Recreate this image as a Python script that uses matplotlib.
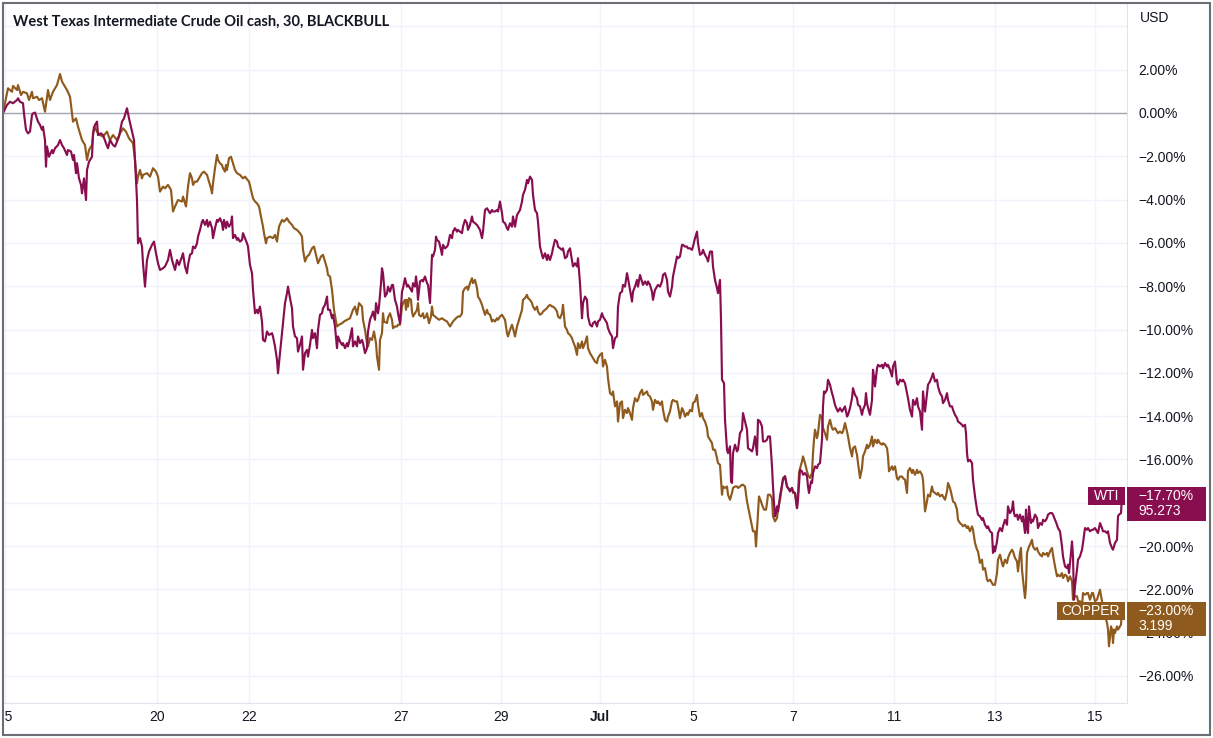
import matplotlib
matplotlib.use("Agg")
import matplotlib.pyplot as plt
from matplotlib.patches import Rectangle
from matplotlib.transforms import blended_transform_factory, Bbox

# percent change vs. first bar, x = 30 min bar number
wti = [
    (3, 0.0), (7, 0.37), (10, 0.52), (13, 0.45), (17, 0.60), (18, 0.68), (20, 0.52), (23, 0.45),
    (24, -0.02), (26, -0.78), (28, -0.94), (30, -0.86), (32, -0.09), (33, -0.02), (35, 0.02),
    (37, -0.25), (38, -0.40), (40, -0.55), (42, -0.78), (43, -0.63), (45, -1.25), (46, -2.48),
    (47, -1.55), (49, -2.02), (52, -1.71), (53, -1.86), (55, -1.63), (58, -1.48), (60, -1.25),
    (62, -1.48), (64, -1.63), (67, -1.94), (68, -1.71), (71, -1.78), (73, -2.17), (74, -1.94),
    (76, -2.78), (77, -2.32), (79, -3.02), (81, -3.32), (82, -3.71), (84, -3.02), (86, -4.02),
    (87, -2.63), (89, -2.25), (92, -2.02), (93, -0.94), (95, -0.55), (97, -0.40), (98, -1.02),
    (101, -0.94), (103, -1.02), (106, -1.40), (108, -1.63), (110, -1.25), (113, -1.48),
    (115, -1.55), (117, -1.32), (119, -1.09), (122, -0.40), (124, -0.25), (126, 0.06), (127, 0.22),
    (129, -0.25), (132, -0.86), (134, -1.25), (135, -2.17), (137, -4.02), (138, -6.02),
    (140, -5.78), (142, -6.17), (143, -6.94), (145, -8.02), (147, -6.79), (149, -6.40),
    (152, -6.09), (154, -5.94), (156, -6.48), (158, -6.94), (160, -7.25), (163, -7.17),
    (165, -7.09), (168, -6.79), (170, -6.32), (172, -6.79), (173, -6.94), (175, -7.25),
    (177, -6.79), (179, -7.02), (182, -6.63), (183, -6.48), (185, -7.09), (187, -7.40),
    (188, -7.02), (190, -6.55), (192, -6.48), (193, -6.17), (195, -6.25), (197, -6.02),
    (198, -5.71), (200, -5.40), (202, -5.02), (203, -4.94), (205, -5.17), (207, -4.94),
    (208, -5.25), (210, -5.02), (212, -5.32), (213, -5.78), (215, -5.32), (217, -4.94),
    (218, -5.02), (220, -4.86), (222, -5.09), (223, -5.40), (224, -4.94), (226, -5.32),
    (227, -5.02), (229, -5.25), (231, -5.09), (232, -4.78), (233, -5.78), (235, -5.63),
    (237, -5.86), (238, -5.78), (240, -5.94), (242, -5.86), (243, -5.55), (245, -5.78),
    (247, -6.02), (248, -6.17), (250, -7.02), (252, -7.40), (253, -8.17), (255, -9.25),
    (257, -9.09), (258, -9.25), (260, -8.94), (262, -9.63), (263, -10.48), (265, -10.55),
    (267, -10.09), (269, -10.25), (272, -10.17), (273, -10.32), (275, -10.78), (277, -11.40),
    (278, -12.02), (280, -11.09), (282, -10.17), (283, -9.71), (285, -8.78), (287, -8.32),
    (288, -8.02), (290, -8.55), (292, -9.02), (293, -9.86), (295, -10.32), (297, -10.40),
    (298, -11.02), (300, -10.71), (302, -10.32), (303, -11.86), (305, -11.09), (307, -10.94),
    (308, -11.25), (310, -10.71), (312, -10.02), (313, -10.40), (315, -10.17), (317, -10.86),
    (318, -10.02), (320, -9.32), (322, -9.25), (323, -9.02), (325, -8.86), (327, -8.48),
    (328, -9.09), (330, -9.09), (332, -9.48), (333, -9.32), (335, -9.86), (337, -10.86),
    (338, -10.32), (340, -10.55), (342, -10.71), (343, -10.63), (345, -10.86), (347, -10.63),
    (348, -10.78), (350, -10.40), (352, -9.94), (353, -10.78), (355, -10.55), (357, -10.78),
    (358, -10.32), (360, -10.63), (362, -10.48), (363, -10.63), (365, -11.09), (367, -10.86),
    (368, -10.09), (370, -9.55), (372, -9.32), (373, -9.17), (375, -9.55), (376, -8.78),
    (378, -9.25), (379, -8.94), (381, -7.86), (382, -7.17), (383, -7.40), (385, -8.48),
    (387, -8.32), (388, -8.02), (390, -8.25), (392, -7.94), (393, -7.94), (395, -8.63),
    (397, -8.94), (398, -9.25), (400, -9.71), (402, -8.25), (403, -8.09), (405, -7.63),
    (407, -8.02), (408, -7.94), (410, -8.09), (412, -8.25), (413, -7.86), (415, -8.02),
    (416, -7.55), (417, -7.94), (418, -8.63), (420, -7.78), (422, -7.71), (423, -7.78),
    (425, -7.55), (427, -7.86), (428, -7.94), (430, -8.78), (432, -6.55), (433, -6.63),
    (435, -6.32), (436, -5.71), (437, -5.86), (439, -5.94), (441, -6.32), (442, -6.55),
    (443, -6.09), (445, -6.25), (447, -6.17), (448, -6.09), (450, -5.63), (452, -5.78),
    (453, -5.48), (455, -5.32), (457, -5.48), (458, -5.40), (460, -5.48), (462, -5.55),
    (463, -5.25), (465, -4.94), (467, -5.09), (468, -5.40), (470, -5.17), (472, -4.78),
    (473, -5.02), (475, -5.09), (477, -5.17), (478, -5.25), (480, -5.40), (482, -5.78),
    (483, -5.48), (485, -4.48), (487, -4.40), (488, -4.48), (490, -4.63), (492, -4.48),
    (493, -4.55), (495, -4.55), (497, -4.48), (498, -4.55), (500, -4.09), (502, -4.63),
    (503, -5.02), (505, -5.09), (507, -5.32), (508, -5.40), (510, -5.09), (512, -5.25),
    (513, -4.78), (515, -5.25), (517, -4.71), (518, -4.63), (520, -4.48), (522, -4.09),
    (523, -3.78), (525, -3.55), (527, -3.09), (528, -3.25), (530, -2.94), (532, -3.09),
    (533, -3.78), (535, -4.48), (537, -4.63), (538, -5.02), (540, -6.17), (542, -6.55),
    (543, -6.71), (545, -6.48), (547, -6.79), (548, -6.55), (550, -6.79), (552, -6.48),
    (553, -6.25), (555, -5.86), (557, -5.94), (558, -6.17), (560, -6.25), (562, -6.32),
    (563, -6.25), (565, -6.71), (567, -6.63), (568, -6.40), (570, -6.25), (572, -6.79),
    (573, -7.09), (575, -6.94), (577, -7.09), (578, -6.71), (580, -7.86), (582, -9.48),
    (583, -8.78), (585, -8.48), (587, -8.63), (588, -9.40), (590, -9.78), (592, -9.86),
    (593, -9.71), (595, -9.63), (597, -9.86), (598, -9.63), (600, -9.55), (602, -9.25),
    (603, -9.40), (605, -9.55), (607, -9.71), (608, -9.94), (610, -10.17), (612, -10.32),
    (613, -10.86), (615, -10.40), (617, -10.32), (618, -8.94), (620, -8.32), (622, -8.25),
    (623, -7.94), (625, -8.02), (627, -7.40), (628, -7.63), (630, -8.17), (632, -8.71),
    (633, -8.25), (635, -8.02), (637, -7.71), (638, -8.02), (640, -7.48), (642, -7.78),
    (643, -7.94), (645, -7.78), (647, -7.94), (648, -7.78), (650, -7.94), (652, -8.25),
    (653, -8.63), (655, -8.17), (657, -8.02), (658, -7.94), (660, -8.02), (662, -7.78),
    (663, -7.48), (665, -7.40), (667, -7.71), (668, -8.25), (670, -8.48), (672, -8.02),
    (673, -7.55), (675, -7.09), (677, -6.63), (678, -6.71), (680, -6.63), (682, -6.09),
    (683, -6.09), (685, -6.17), (687, -6.17), (688, -6.25), (690, -6.25), (692, -6.32),
    (693, -6.17), (695, -5.78), (697, -5.48), (698, -6.02), (700, -6.55), (702, -6.48),
    (703, -6.32), (705, -6.55), (707, -6.71), (708, -6.86), (710, -6.40), (712, -6.40),
    (713, -7.09), (715, -7.71), (717, -8.09), (718, -8.32), (720, -7.71), (721, -9.55),
    (722, -12.32), (724, -12.48), (725, -14.17), (727, -15.55), (728, -15.71), (730, -15.40),
    (731, -17.02), (732, -17.09), (733, -15.71), (735, -15.32), (737, -15.63), (738, -15.55),
    (740, -14.79), (742, -14.63), (743, -13.86), (745, -14.25), (747, -14.63), (748, -15.48),
    (750, -15.55), (752, -15.63), (753, -15.48), (755, -14.94), (757, -15.79), (758, -14.17),
    (760, -14.25), (762, -14.48), (763, -15.17), (765, -15.17), (767, -15.09), (768, -14.94),
    (770, -14.94), (772, -16.32), (773, -17.25), (774, -18.02), (775, -18.63), (776, -18.48),
    (777, -18.17), (778, -18.40), (780, -17.71), (782, -17.17), (783, -16.94), (785, -16.78),
    (787, -17.25), (788, -17.32), (790, -17.48), (792, -17.32), (793, -17.48), (795, -17.55),
    (797, -18.25), (798, -17.86), (800, -16.48), (802, -16.55), (803, -16.71), (805, -16.63),
    (807, -16.78), (808, -17.25), (809, -17.55), (811, -17.02), (812, -17.09), (813, -16.63),
    (815, -16.32), (817, -16.40), (818, -16.25), (820, -16.17), (822, -15.09), (823, -13.55),
    (824, -12.86), (825, -12.94), (827, -12.78), (828, -12.32), (830, -12.55), (832, -12.94),
    (833, -13.09), (835, -13.48), (837, -13.71), (838, -13.79), (840, -13.63), (842, -13.79),
    (843, -13.71), (845, -13.55), (847, -14.02), (848, -13.94), (850, -13.63), (852, -13.17),
    (853, -12.71), (855, -13.02), (857, -13.17), (858, -13.48), (860, -13.55), (862, -13.94),
    (863, -13.71), (865, -13.48), (866, -12.94), (867, -13.40), (869, -13.79), (870, -13.94),
    (872, -13.25), (873, -11.86), (874, -12.17), (875, -12.63), (877, -11.79), (878, -11.63),
    (880, -11.71), (882, -11.63), (883, -11.79), (885, -11.55), (887, -11.71), (888, -11.63),
    (890, -11.86), (892, -12.17), (893, -11.71), (895, -11.48), (897, -12.48), (898, -12.55),
    (900, -12.32), (902, -12.40), (903, -12.32), (905, -12.48), (907, -12.94), (908, -13.17),
    (910, -13.71), (912, -14.02), (913, -13.25), (915, -13.48), (917, -13.17), (918, -13.55),
    (920, -13.79), (922, -14.63), (923, -12.86), (925, -13.79), (927, -12.94), (928, -12.55),
    (930, -12.40), (932, -12.17), (933, -12.02), (935, -12.40), (937, -12.32), (938, -12.63),
    (940, -12.94), (942, -13.09), (943, -13.40), (945, -13.25), (947, -12.94), (948, -13.25),
    (950, -13.55), (952, -13.55), (953, -13.71), (955, -13.94), (957, -14.09), (958, -14.25),
    (960, -14.32), (962, -14.40), (963, -14.48), (965, -14.40), (966, -14.79), (967, -15.71),
    (968, -16.09), (970, -16.02), (972, -16.17), (973, -16.94), (975, -17.71), (977, -18.32),
    (978, -18.55), (980, -18.63), (982, -18.79), (983, -18.71), (985, -19.02), (987, -19.17),
    (988, -19.09), (990, -19.32), (992, -19.40), (993, -20.32), (994, -20.02), (995, -20.25),
    (997, -19.79), (998, -19.40), (1000, -19.17), (1002, -19.32), (1003, -19.09), (1005, -18.79),
    (1007, -19.02), (1008, -18.17), (1010, -18.48), (1012, -18.32), (1013, -17.94), (1014, -18.48),
    (1015, -18.63), (1017, -18.55), (1018, -18.79), (1020, -18.55), (1022, -18.86), (1023, -18.63),
    (1025, -19.40), (1026, -18.32), (1027, -19.17), (1028, -19.40), (1029, -18.17), (1031, -18.94),
    (1032, -18.79), (1033, -18.86), (1035, -18.55), (1037, -18.71), (1038, -19.17), (1040, -18.94),
    (1042, -19.02), (1043, -18.79), (1045, -18.86), (1047, -18.71), (1048, -18.55), (1050, -18.48),
    (1052, -18.48), (1053, -18.55), (1055, -18.79), (1057, -19.02), (1058, -19.17), (1060, -19.32),
    (1062, -20.02), (1063, -20.48), (1065, -20.94), (1067, -21.02), (1068, -20.86), (1069, -21.25),
    (1071, -20.32), (1072, -19.79), (1073, -20.48), (1074, -22.48), (1075, -21.86), (1077, -21.09),
    (1078, -20.63), (1080, -20.48), (1082, -20.17), (1083, -19.86), (1085, -19.17), (1087, -19.25),
    (1088, -19.17), (1090, -19.32), (1092, -19.25), (1093, -19.25), (1095, -19.17), (1097, -19.32),
    (1098, -19.40), (1100, -18.94), (1102, -19.17), (1103, -19.32), (1105, -19.32), (1107, -19.40),
    (1108, -19.32), (1110, -19.86), (1112, -20.09), (1113, -20.17), (1115, -19.86), (1117, -19.71),
    (1118, -18.63), (1119, -18.55), (1121, -18.48), (1122, -17.70),
]

copper = [
    (3, 0.0), (7, 0.91), (8, 1.14), (12, 0.98), (13, 1.25), (17, 1.06), (18, 1.29), (21, 0.83),
    (23, 0.98), (27, 0.91), (29, 0.60), (32, 0.98), (33, 0.68), (37, 0.75), (39, 0.60), (42, 0.68),
    (45, 0.06), (47, 0.75), (48, 1.06), (50, 0.60), (53, 0.98), (55, 1.14), (57, 1.29), (60, 1.80),
    (62, 1.45), (64, 1.29), (67, 1.06), (70, 0.75), (72, -0.02), (73, -0.40), (76, -0.25),
    (78, -0.63), (82, -1.25), (85, -1.48), (87, -2.17), (89, -1.71), (92, -1.48), (94, -0.63),
    (97, -0.86), (100, -1.02), (103, -1.09), (107, -0.86), (110, -1.25), (113, -1.02),
    (117, -1.25), (120, -0.94), (123, -0.71), (126, -0.86), (129, -1.17), (133, -1.40),
    (135, -2.17), (137, -3.25), (138, -2.94), (140, -2.63), (142, -3.02), (143, -2.86),
    (147, -2.78), (150, -2.94), (153, -2.55), (156, -2.71), (158, -2.94), (160, -3.63),
    (163, -3.40), (165, -3.48), (168, -3.32), (171, -3.55), (173, -4.55), (175, -4.32),
    (178, -4.02), (182, -4.09), (183, -3.86), (186, -4.32), (188, -3.40), (190, -2.78),
    (192, -3.02), (193, -3.32), (195, -3.17), (197, -3.17), (200, -2.94), (202, -2.78),
    (204, -2.71), (207, -2.86), (208, -3.02), (211, -3.48), (212, -3.71), (213, -3.25),
    (215, -2.55), (217, -1.94), (218, -2.17), (220, -2.32), (222, -2.40), (223, -2.55),
    (225, -2.71), (226, -2.40), (227, -2.63), (229, -2.09), (231, -2.02), (233, -2.32),
    (235, -2.63), (237, -2.78), (240, -2.86), (243, -3.02), (245, -2.94), (247, -3.06),
    (249, -3.17), (251, -3.55), (253, -3.94), (255, -4.09), (257, -4.17), (259, -4.32),
    (261, -4.78), (263, -5.25), (264, -5.55), (266, -6.02), (267, -5.78), (270, -5.71),
    (273, -5.78), (275, -5.63), (277, -5.94), (279, -5.25), (282, -4.94), (284, -5.02),
    (287, -4.86), (289, -5.02), (292, -5.17), (294, -5.32), (297, -5.40), (300, -5.55),
    (302, -5.71), (303, -6.32), (305, -6.86), (307, -6.63), (309, -6.55), (312, -6.25),
    (314, -6.17), (316, -6.55), (318, -6.94), (321, -6.63), (323, -6.55), (325, -6.86),
    (327, -7.17), (328, -7.48), (330, -7.55), (332, -8.17), (334, -9.09), (336, -9.63),
    (337, -9.86), (339, -9.78), (342, -9.71), (344, -9.63), (347, -9.55), (350, -9.48),
    (353, -9.09), (355, -8.94), (357, -9.32), (359, -8.78), (362, -8.94), (363, -9.55),
    (365, -10.02), (367, -10.63), (368, -10.78), (370, -10.40), (372, -10.48), (374, -10.09),
    (376, -10.63), (377, -11.25), (379, -11.86), (380, -10.48), (382, -10.17), (383, -9.25),
    (384, -9.63), (387, -9.70), (388, -9.45), (390, -9.25), (392, -9.55), (393, -9.94),
    (395, -9.86), (397, -9.86), (398, -9.78), (400, -9.78), (402, -8.94), (403, -8.78),
    (405, -8.63), (406, -9.09), (407, -8.63), (408, -8.94), (409, -8.55), (411, -8.63),
    (412, -9.17), (413, -9.40), (415, -9.25), (417, -9.09), (418, -8.78), (419, -9.32),
    (421, -9.40), (423, -9.25), (424, -9.48), (426, -9.40), (427, -9.25), (429, -9.71),
    (431, -9.40), (432, -8.94), (433, -9.32), (435, -9.40), (437, -9.48), (439, -9.55),
    (442, -9.48), (444, -9.55), (447, -9.63), (448, -9.71), (450, -9.86), (452, -9.71),
    (453, -9.63), (456, -9.48), (458, -9.40), (460, -9.40), (462, -9.25), (463, -8.25),
    (465, -8.09), (467, -8.02), (468, -8.17), (470, -7.86), (472, -7.63), (473, -7.86),
    (475, -7.71), (477, -8.09), (478, -8.48), (480, -8.63), (482, -8.86), (483, -9.02),
    (485, -9.32), (487, -9.09), (488, -9.25), (490, -9.32), (492, -9.63), (493, -9.55),
    (495, -9.63), (497, -9.48), (498, -9.55), (500, -9.40), (502, -9.32), (503, -9.40),
    (505, -9.55), (507, -10.17), (508, -10.32), (510, -10.02), (512, -9.78), (513, -9.94),
    (515, -10.32), (517, -9.86), (518, -9.71), (520, -9.40), (522, -9.09), (523, -8.63),
    (525, -8.55), (527, -8.40), (528, -8.55), (530, -8.63), (532, -8.78), (533, -8.94),
    (535, -9.09), (537, -8.94), (538, -9.17), (540, -9.32), (542, -9.25), (543, -9.17),
    (545, -9.09), (547, -9.02), (548, -8.94), (550, -8.86), (552, -8.94), (553, -8.94),
    (555, -9.02), (557, -9.17), (558, -9.40), (560, -9.48), (562, -9.25), (563, -8.86),
    (565, -9.86), (567, -10.02), (568, -10.17), (570, -10.25), (572, -10.40), (573, -10.55),
    (575, -10.78), (577, -11.17), (578, -10.63), (580, -10.86), (582, -10.55), (583, -10.86),
    (585, -10.63), (587, -10.32), (588, -10.86), (590, -11.09), (592, -11.25), (593, -11.32),
    (595, -11.48), (597, -11.55), (598, -11.32), (600, -11.17), (602, -11.09), (603, -11.71),
    (605, -11.40), (607, -11.71), (608, -12.25), (610, -12.94), (612, -13.02), (613, -12.86),
    (615, -13.55), (617, -13.32), (618, -14.25), (620, -13.40), (622, -13.32), (623, -14.09),
    (625, -13.71), (627, -13.86), (628, -13.63), (630, -13.86), (632, -14.17), (633, -13.63),
    (635, -13.17), (637, -13.32), (638, -13.25), (640, -12.94), (642, -12.78), (643, -13.02),
    (645, -12.94), (647, -12.86), (648, -13.02), (650, -13.09), (652, -13.32), (653, -13.71),
    (655, -13.25), (657, -13.40), (658, -13.32), (660, -13.48), (662, -13.32), (663, -13.71),
    (665, -14.17), (667, -14.25), (668, -14.02), (670, -13.78), (672, -13.32), (673, -13.25),
    (675, -13.32), (677, -13.32), (678, -13.55), (680, -14.09), (682, -13.63), (683, -13.71),
    (685, -14.02), (687, -13.86), (688, -13.94), (690, -13.71), (692, -13.78), (693, -13.40),
    (695, -13.32), (697, -13.02), (698, -13.48), (700, -14.02), (702, -13.86), (703, -14.09),
    (705, -14.25), (707, -14.55), (708, -14.94), (710, -15.09), (712, -15.25), (713, -15.55),
    (715, -15.55), (717, -15.94), (718, -16.17), (720, -16.25), (722, -17.63), (723, -17.25),
    (725, -17.32), (727, -17.25), (728, -17.63), (730, -17.86), (732, -17.55), (733, -17.32),
    (735, -17.25), (737, -17.25), (738, -17.32), (740, -17.25), (742, -17.17), (743, -17.17),
    (745, -17.25), (747, -17.94), (748, -18.17), (750, -18.63), (752, -19.09), (753, -19.32),
    (755, -19.32), (756, -20.02), (757, -19.25), (759, -17.71), (761, -17.94), (762, -18.09),
    (764, -18.32), (766, -18.32), (767, -18.02), (768, -17.63), (770, -17.63), (772, -17.79),
    (773, -18.63), (775, -18.86), (777, -18.71), (778, -18.32), (780, -17.86), (782, -17.25),
    (783, -16.86), (785, -16.78), (787, -17.25), (788, -17.32), (790, -17.40), (792, -17.32),
    (793, -17.55), (795, -17.55), (797, -18.25), (798, -17.55), (799, -16.63), (801, -16.25),
    (802, -16.09), (803, -15.86), (805, -16.17), (807, -16.55), (808, -16.71), (810, -16.86),
    (812, -16.63), (813, -15.71), (814, -15.09), (815, -14.63), (817, -15.02), (818, -14.79),
    (820, -13.94), (822, -14.09), (823, -14.55), (825, -14.79), (827, -15.09), (828, -14.48),
    (830, -14.17), (832, -14.55), (833, -14.63), (835, -14.55), (837, -14.71), (838, -14.79),
    (840, -14.71), (842, -14.79), (843, -14.71), (845, -14.32), (847, -14.71), (848, -14.94),
    (850, -15.48), (852, -15.86), (853, -15.48), (855, -15.40), (857, -15.79), (858, -16.17),
    (860, -16.86), (862, -16.40), (863, -15.86), (865, -15.63), (867, -15.32), (868, -15.48),
    (870, -15.32), (872, -14.94), (873, -15.40), (875, -15.09), (877, -15.25), (878, -15.09),
    (880, -15.25), (882, -15.32), (883, -15.25), (885, -15.32), (887, -15.48), (888, -15.86),
    (889, -16.55), (891, -16.40), (892, -16.32), (893, -16.48), (895, -16.32), (897, -16.86),
    (898, -16.94), (900, -16.79), (902, -16.79), (903, -16.86), (905, -16.94), (907, -17.55),
    (908, -16.55), (910, -16.40), (912, -16.63), (913, -16.48), (915, -16.71), (917, -16.48),
    (918, -16.63), (920, -16.55), (922, -16.71), (923, -16.94), (925, -18.40), (927, -17.94),
    (928, -17.63), (930, -17.71), (932, -17.25), (933, -17.48), (935, -17.55), (937, -17.63),
    (938, -17.55), (940, -17.71), (942, -17.63), (943, -17.71), (945, -17.86), (947, -17.48),
    (948, -17.09), (950, -17.32), (952, -17.71), (953, -17.94), (955, -18.02), (957, -18.32),
    (958, -18.79), (960, -18.94), (962, -19.02), (963, -19.09), (965, -19.02), (967, -19.17),
    (968, -19.09), (970, -19.32), (972, -19.09), (973, -19.25), (975, -19.86), (977, -20.17),
    (978, -20.25), (980, -20.78), (982, -20.63), (983, -21.09), (985, -21.02), (987, -21.55),
    (988, -21.63), (990, -21.55), (992, -21.71), (993, -21.79), (995, -21.79), (997, -21.25),
    (998, -20.63), (1000, -20.40), (1002, -20.79), (1003, -20.94), (1005, -20.63), (1007, -20.79),
    (1008, -20.55), (1010, -20.32), (1012, -20.17), (1013, -20.25), (1015, -20.55), (1017, -20.71),
    (1018, -21.17), (1020, -20.32), (1021, -20.09), (1022, -21.09), (1023, -21.55), (1025, -22.40),
    (1026, -21.86), (1027, -20.32), (1029, -20.02), (1030, -19.94), (1032, -19.71), (1033, -20.02),
    (1035, -20.17), (1037, -20.09), (1038, -20.25), (1040, -20.40), (1042, -20.48), (1043, -20.32),
    (1045, -20.40), (1047, -20.32), (1048, -20.48), (1050, -20.25), (1052, -20.09), (1053, -20.40),
    (1055, -20.94), (1057, -21.40), (1058, -21.32), (1060, -21.40), (1062, -21.25), (1063, -21.48),
    (1065, -21.32), (1067, -21.40), (1068, -21.63), (1070, -21.40), (1072, -21.63), (1073, -22.48),
    (1075, -22.32), (1077, -22.32), (1078, -22.55), (1080, -22.55), (1082, -22.79), (1083, -22.17),
    (1085, -22.25), (1087, -22.17), (1088, -22.17), (1090, -22.48), (1092, -22.17), (1093, -22.17),
    (1095, -22.55), (1097, -22.48), (1098, -22.32), (1100, -22.02), (1102, -22.55), (1103, -23.09),
    (1105, -23.25), (1107, -23.55), (1108, -23.86), (1109, -24.63), (1111, -23.71), (1112, -23.86),
    (1113, -24.48), (1114, -23.86), (1115, -24.02), (1117, -23.71), (1118, -23.86), (1120, -23.71),
    (1121, -23.63), (1122, -23.00),
]

day_bars = [5, 157, 249, 401, 501, 600, 693, 793, 894, 995, 1095]
day_labels = ["15", "20", "22", "27", "29", "Jul", "5", "7", "11", "13", "15"]
pct_ticks = list(range(-26, 5, 2))

wti_price = "95.273"
copper_price = "3.199"

title = "West Texas Intermediate Crude Oil cash, 30, BLACKBULL"
WTI_COL = "#880e4f"
CU_COL = "#8f5a1e"
TXT = "#131722"

plt.rcParams["font.family"] = ["Liberation Sans", "DejaVu Sans"]

W, H = 1213, 738
fig = plt.figure(figsize=(W / 100, H / 100), dpi=100)
ax_w, ax_h = 1124, 700
ax = fig.add_axes([3 / W, 35 / H, ax_w / W, ax_h / H])
ax.set_xlim(3, 1127)
ax.set_ylim(-27.25, 5.08)

wti_x, wti_y = zip(*wti)
cu_x, cu_y = zip(*copper)
ax.plot(cu_x, cu_y, color=CU_COL, lw=1.55, zorder=3)
ax.plot(wti_x, wti_y, color=WTI_COL, lw=1.55, zorder=3)
ax.axhline(0, color="#a3a6af", lw=1, zorder=2)


def fmt(v):
    s = "%.2f%%" % abs(v)
    return ("\u2212" + s) if v < 0 else s


ax.set_yticks(pct_ticks)
ax.set_yticklabels([fmt(v) if v < 4 else "" for v in pct_ticks])
ax.set_xticks(day_bars)
ax.set_xticklabels(day_labels)
ax.yaxis.tick_right()
ax.grid(color="#f0f3fa", lw=1, zorder=0)
ax.tick_params(length=0, labelsize=10, labelcolor=TXT)
ax.tick_params(axis="y", pad=8)
ax.tick_params(axis="x", pad=5)
for side in ["top", "left"]:
    ax.spines[side].set_visible(False)
for side in ["right", "bottom"]:
    ax.spines[side].set_color("#e0e3eb")

xl = ax.get_xticklabels()
xl[5].set_fontweight("bold")
xl[0].set_clip_box(Bbox.from_extents(5, 0, W, H))
xl[0].set_clip_on(True)

# price scale tags
tr = blended_transform_factory(ax.transAxes, ax.transData)
fx = 1 / ax_w
fy = (ax.get_ylim()[1] - ax.get_ylim()[0]) / ax_h


def tag(last, name, price, color, tag_w):
    ax.add_patch(Rectangle((1 - (2 + tag_w) * fx, last - 9 * fy), tag_w * fx, 18 * fy,
                           transform=tr, color=color, clip_on=False, zorder=6, lw=0))
    ax.add_patch(Rectangle((1, last + 9 * fy - 34 * fy), 79 * fx, 34 * fy,
                           transform=tr, color=color, clip_on=False, zorder=6, lw=0))
    ax.text(1 - (2 + tag_w / 2) * fx, last, name, transform=tr, ha="center", va="center",
            color="white", fontsize=10, zorder=7, clip_on=False)
    ax.text(1 + 11 * fx, last + 7 * fy, fmt(last) + "\n" + price, transform=tr,
            ha="left", va="top", color="white", fontsize=10, linespacing=1.05,
            zorder=7, clip_on=False)


tag(wti_y[-1], "WTI", wti_price, WTI_COL, 37)
tag(cu_y[-1], "COPPER", copper_price, CU_COL, 68)

fig.text(13 / W, 1 - 22 / H, title, ha="left", va="center", fontsize=10.5,
         fontweight="bold", family=["Lato", "DejaVu Sans"], color=TXT)
fig.text(1140 / W, 1 - 18 / H, "USD", ha="left", va="center", fontsize=10, color=TXT)

fig.add_artist(Rectangle((3 / W, 3 / H), 1207 / W, 732 / H, transform=fig.transFigure,
                         fill=False, edgecolor="#6b6e75", lw=1.5))

fig.savefig("out.png", dpi=100, facecolor="white")
